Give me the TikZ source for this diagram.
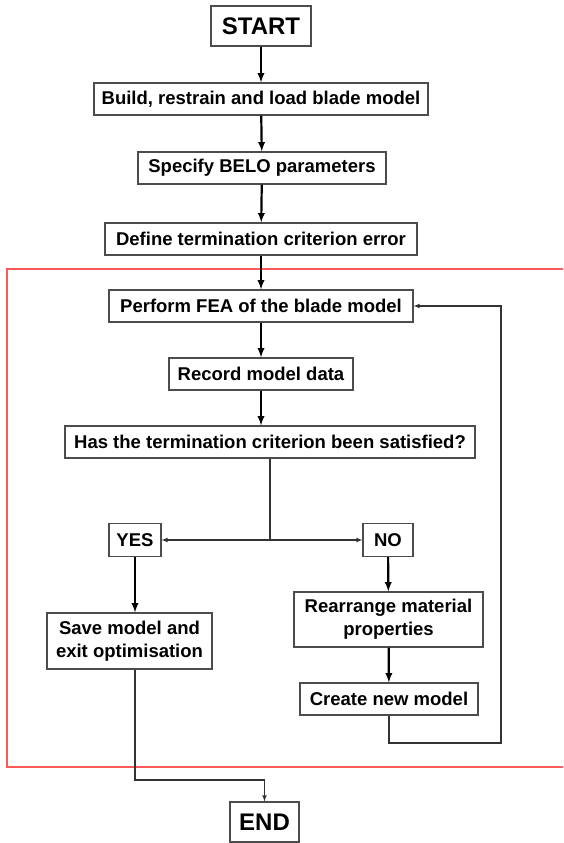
\documentclass[tikz,border=0pt]{standalone}
\usepackage{fontspec}
\setmainfont{Liberation Sans}
\usetikzlibrary{calc}

\begin{document}
\begin{tikzpicture}[x=1pt, y=-1pt,
    box/.style={draw=black!70, line width=1.1pt, fill=white, inner sep=0pt,
        minimum height=32, align=center, font=\bfseries\fontsize{18.5}{23}\selectfont},
    bigbox/.style={box, minimum height=40, font=\bfseries\fontsize{24}{26}\selectfont},
    flow/.style={-latex, line width=2.2pt, black},
    link/.style={-latex, line width=1.1pt, black!80}]
    \clip (0,0) rectangle (563,843);
    % loop frame
    \draw[red!65, line width=1.5pt] (7,269) rectangle (590,767);
    % main column
    \node[bigbox, minimum width=100] (start) at (261,26) {START};
    \node[box, minimum width=334] (build) at (261,99) {Build, restrain and load blade model};
    \node[box, minimum width=248] (belo) at (262,168) {Specify BELO parameters};
    \node[box, minimum width=312] (crit) at (261,239) {Define termination criterion error};
    \node[box, minimum width=304] (fea) at (261,306) {Perform FEA of the blade model};
    \node[box, minimum width=184] (rec) at (261,374) {Record model data};
    \node[box, minimum width=410] (check) at (270,442) {Has the termination criterion been satisfied?};
    % branches
    \node[box, minimum width=52, minimum height=33] (yes) at (135,540) {YES};
    \node[box, minimum width=50, minimum height=33] (no) at (388,540) {NO};
    \node[box, minimum width=165, minimum height=56] (save) at (129.5,641) {Save model and\\exit optimisation};
    \node[box, minimum width=189, minimum height=55] (rearr) at (388.5,619.5) {Rearrange material\\properties};
    \node[box, minimum width=178] (new) at (389,699) {Create new model};
    \node[bigbox, minimum width=69] (end) at (264.5,822) {END};
    \coordinate (split) at (270,540);
    \coordinate (back) at (501,743);
    \coordinate (drop) at (135,780);
    % arrows
    \draw[flow] (start) -- (build);
    \draw[flow] (build) -- (belo);
    \draw[flow] (belo) -- (crit);
    \draw[flow] (crit) -- (fea);
    \draw[flow] (fea) -- (rec);
    \draw[flow] (rec) -- (rec |- check.north);
    \draw[link, -] (check) -- (split);
    \draw[link] (split) -- (yes);
    \draw[link] (split) -- (no);
    \draw[flow] (yes) -- (yes |- save.north);
    \draw[flow] (no) -- (rearr);
    \draw[flow] (rearr) -- (new);
    \draw[link] (new.south) |- (back) |- (fea.east);
    \draw[link] (yes |- save.south) -- (drop) -| (end.north);
\end{tikzpicture}
\end{document}
